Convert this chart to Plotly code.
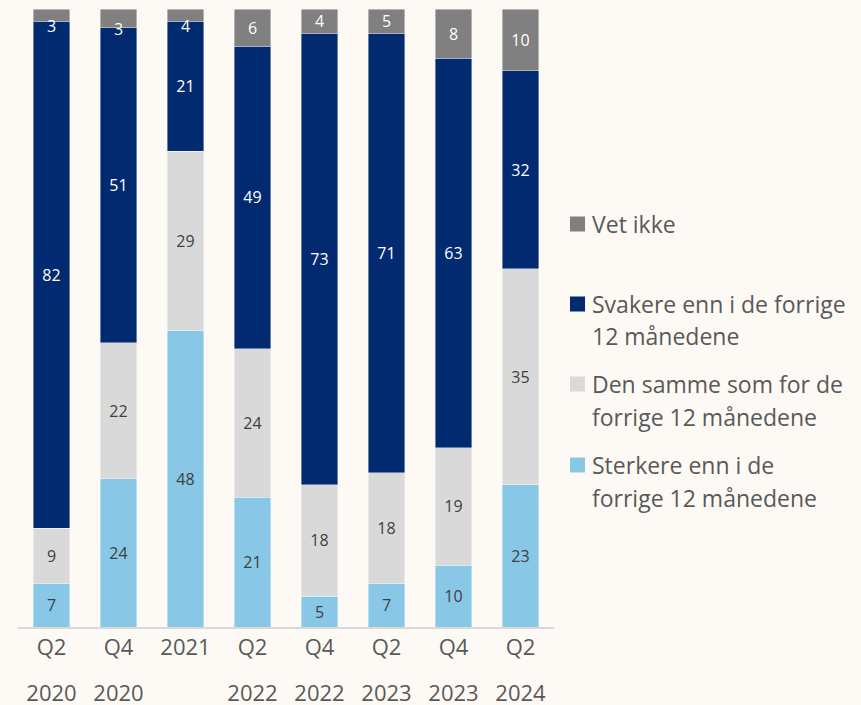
import plotly.graph_objects as go

# --- data ---
quarters = ["Q2", "Q4", "2021", "Q2", "Q4", "Q2", "Q4", "Q2"]
years = ["2020", "2020", "", "2022", "2022", "2023", "2023", "2024"]
sterkere = [7, 24, 48, 21, 5, 7, 10, 23]
samme = [9, 22, 29, 24, 18, 18, 19, 35]
svakere = [82, 51, 21, 49, 73, 71, 63, 32]
vet_ikke = [3, 3, 4, 6, 4, 5, 8, 10]          # printed labels
vet_ikke_bar = [2, 3, 2, 6, 4, 4, 8, 10]      # segment heights as drawn

legend_lines = [
    ["Vet ikke"],
    ["Svakere enn i de forrige", "12 månedene"],
    ["Den samme som for de", "forrige 12 månedene"],
    ["Sterkere enn i de", "forrige 12 månedene"],
]

series = [
    ("Sterkere", sterkere, sterkere, "#88C7E6", "#404040"),
    ("Den samme", samme, samme, "#D9D9D9", "#404040"),
    ("Svakere", svakere, svakere, "#022A70", "white"),
    ("Vet ikke", vet_ikke_bar, vet_ikke, "#808080", "white"),
]
legend_colors = ["#808080", "#022A70", "#D9D9D9", "#88C7E6"]

FONT = "'Open Sans', sans-serif"
BG = "#FDF9F5"
LBL = "<span style='font-size:22px'>%s</span>"

# category keys + two-line tick labels (big base font -> wide line spacing)
cats = ["c%d" % i for i in range(len(quarters))]
ticktext = [LBL % q + ("<br>" + LBL % y if y else "") for q, y in zip(quarters, years)]

# plot area in pixels (for placing the hand-made legend)
L, R, T, B = 18, 554, 9, 627
px_x = lambda p: (p - L) / (R - L)
px_y = lambda p: (B - p) / (B - T)

fig = go.Figure()
for name, vals, labels, col, txtcol in series:
    # very thin segments: push the label down a bit, like the original does
    txt = [("\u00a0<br>%s" if v <= 3 else "%s") % lab for v, lab in zip(vals, labels)]
    fig.add_trace(go.Bar(x=cats, y=vals, name=name, showlegend=False,
                         marker=dict(color=col, line=dict(color="rgba(255,255,255,0.5)", width=0.8)),
                         text=txt, textposition="inside", textangle=0,
                         insidetextanchor="middle", constraintext="none", cliponaxis=False,
                         textfont=dict(color=txtcol, size=16, family=FONT),
                         hoverinfo="skip"))

# legend: square + lines of text
first_y = [224, 304, 384, 465]
for lines, col, y0 in zip(legend_lines, legend_colors, first_y):
    fig.add_shape(type="rect", xref="paper", yref="paper",
                  x0=px_x(570), x1=px_x(585), y0=px_y(y0 + 7.5), y1=px_y(y0 - 7.5),
                  fillcolor=col, line=dict(width=0))
    for k, txt in enumerate(lines):
        fig.add_annotation(x=px_x(590), y=px_y(y0 + 32.5 * k), xref="paper", yref="paper",
                           text=txt, showarrow=False, xanchor="left", yanchor="middle",
                           font=dict(size=23, color="#595959", family=FONT))

fig.update_layout(
    barmode="stack", barnorm="percent", bargap=0.46,
    width=861, height=705,
    margin=dict(l=L, r=861 - R, t=T, b=705 - B),
    paper_bgcolor=BG, plot_bgcolor=BG,
    font=dict(family=FONT, color="#595959"),
    uniformtext=dict(minsize=16, mode="show"),
    xaxis=dict(showline=True, linecolor="#D9D9D9", linewidth=2, ticks="",
               tickmode="array", tickvals=cats, ticktext=ticktext, automargin=False,
               ticklabelstandoff=-16,
               tickfont=dict(size=35, color="#595959"), showgrid=False),
    yaxis=dict(range=[0, 100], visible=False, showgrid=False),
)

fig.write_html("out.html", config={"displayModeBar": False},
               post_script="document.body.style.margin='0px';document.body.style.background='%s';" % BG)
